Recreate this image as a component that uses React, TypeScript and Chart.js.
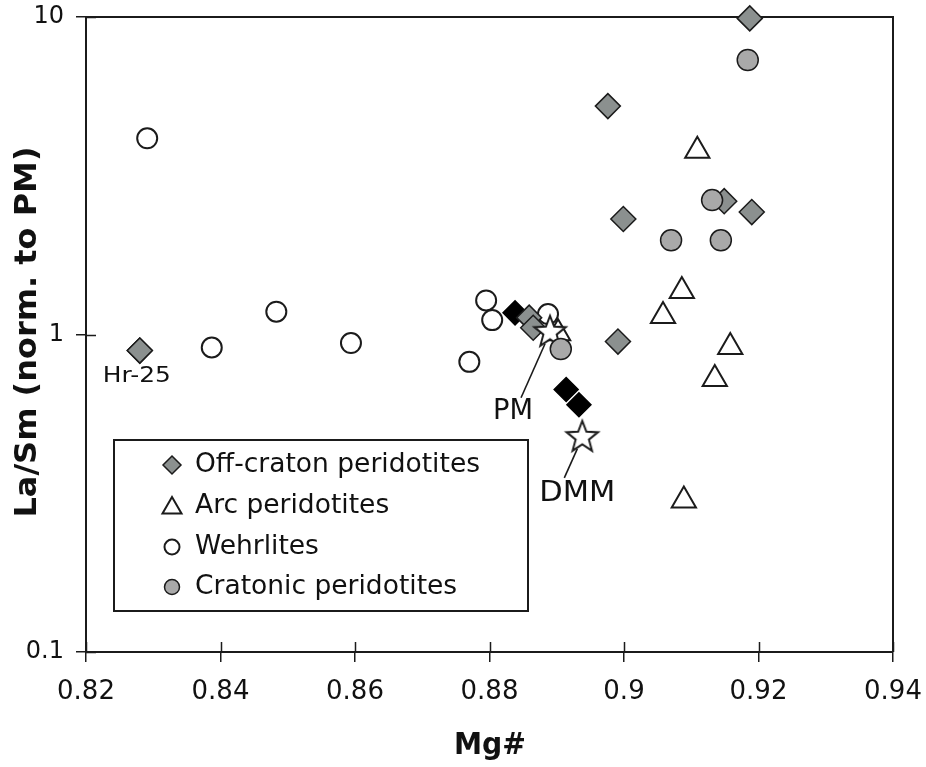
import React, { useEffect, useRef } from 'react';
import { Chart, registerables } from 'chart.js';

Chart.register(...registerables);

// Mg# vs. primitive-mantle-normalised La/Sm for mantle peridotites
const offCratonMg = [0.9187, 0.8976, 0.8999, 0.919, 0.9149, 0.8991, 0.828, 0.8859, 0.8865];
const offCratonLaSm = [9.9, 5.24, 2.31, 2.43, 2.63, 0.95, 0.89, 1.13, 1.05];

const arcMg = [0.9109, 0.9086, 0.9058, 0.9158, 0.9135, 0.9089, 0.8902];
const arcLaSm = [3.79, 1.37, 1.144, 0.913, 0.724, 0.3, 1.01];

const wehrliteMg = [0.8291, 0.8387, 0.8483, 0.8594, 0.877, 0.8795, 0.8804, 0.8887];
const wehrliteLaSm = [4.15, 0.91, 1.18, 0.94, 0.82, 1.28, 1.11, 1.16];

const cratonicMg = [0.9184, 0.9131, 0.907, 0.9144, 0.8906];
const cratonicLaSm = [7.32, 2.65, 1.98, 1.98, 0.9];

const blackMg = [0.8838, 0.8914, 0.8933];
const blackLaSm = [1.17, 0.671, 0.601];

const refNames = ['PM', 'DMM'];
const refMg = [0.889, 0.8938];
const refLaSm = [1.02, 0.476];

const sampleNames = ['Hr-25'];
const sampleMg = [0.828];
const sampleLaSm = [0.89];

const xTicks = [0.82, 0.84, 0.86, 0.88, 0.9, 0.92, 0.94];
const yTicks = [0.1, 1, 10];

const legendNames = ['Off-craton peridotites', 'Arc peridotites', 'Wehrlites', 'Cratonic peridotites'];

const FONT = "'DejaVu Sans', Verdana, sans-serif";
const INK = '#1b1b1b';
const GREY_DIAMOND = '#8b908f';
const GREY_CIRCLE = '#a9a9a9';

const pts = (xs: number[], ys: number[]) => xs.map((x, i) => ({ x, y: ys[i] }));

function makeStar(): HTMLCanvasElement {
  const c = document.createElement('canvas');
  c.width = 38;
  c.height = 38;
  const g = c.getContext('2d')!;
  const cx = 19, cy = 19.5, R = 16.5, r = 7;
  g.beginPath();
  for (let i = 0; i < 10; i++) {
    const a = -Math.PI / 2 + (i * Math.PI) / 5;
    const rad = i % 2 === 0 ? R : r;
    const px = cx + rad * Math.cos(a);
    const py = cy + rad * Math.sin(a);
    if (i === 0) g.moveTo(px, py);
    else g.lineTo(px, py);
  }
  g.closePath();
  g.fillStyle = '#ffffff';
  g.fill();
  g.lineWidth = 2;
  g.strokeStyle = INK;
  g.lineJoin = 'miter';
  g.stroke();
  return c;
}

function fitText(
  ctx: CanvasRenderingContext2D,
  text: string,
  x: number,
  y: number,
  font: string,
  width: number,
  rot = 0,
  align: CanvasTextAlign = 'center'
) {
  ctx.save();
  ctx.font = font;
  ctx.textAlign = align;
  ctx.textBaseline = 'middle';
  const w = ctx.measureText(text).width;
  ctx.translate(x, y);
  ctx.rotate(rot);
  ctx.scale(width / w, 1);
  ctx.fillText(text, 0, 0);
  ctx.restore();
}

function marker(ctx: CanvasRenderingContext2D, kind: string, x: number, y: number, r: number, fill: string, lw: number) {
  ctx.beginPath();
  if (kind === 'diamond') {
    ctx.moveTo(x, y - r);
    ctx.lineTo(x + r, y);
    ctx.lineTo(x, y + r);
    ctx.lineTo(x - r, y);
    ctx.closePath();
  } else if (kind === 'triangle') {
    for (let i = 0; i < 3; i++) {
      const a = -Math.PI / 2 + (i * 2 * Math.PI) / 3;
      const px = x + r * Math.cos(a);
      const py = y + r * Math.sin(a);
      if (i === 0) ctx.moveTo(px, py);
      else ctx.lineTo(px, py);
    }
    ctx.closePath();
  } else {
    ctx.arc(x, y, r, 0, Math.PI * 2);
  }
  ctx.fillStyle = fill;
  ctx.fill();
  ctx.lineWidth = lw;
  ctx.strokeStyle = INK;
  ctx.stroke();
}

const overlay = {
  id: 'overlay',
  beforeDatasetsDraw(chart: any) {
    const { ctx, chartArea: a, scales } = chart;
    ctx.save();
    ctx.strokeStyle = INK;
    ctx.lineWidth = 1.5;
    // inward half of the tick marks
    ctx.beginPath();
    for (const v of xTicks) {
      const px = Math.round(scales.x.getPixelForValue(v)) + 0.5;
      ctx.moveTo(px, a.bottom);
      ctx.lineTo(px, a.bottom - 10);
    }
    for (const v of yTicks) {
      const py = Math.round(scales.y.getPixelForValue(v)) + 0.5;
      ctx.moveTo(a.left, py);
      ctx.lineTo(a.left + 10, py);
    }
    ctx.stroke();
    // frame on top and right
    ctx.lineWidth = 2;
    ctx.beginPath();
    ctx.moveTo(a.left, a.top);
    ctx.lineTo(a.right, a.top);
    ctx.lineTo(a.right, a.bottom);
    ctx.stroke();
    ctx.restore();
  },
  afterDraw(chart: any) {
    const { ctx, scales } = chart;
    const X = (v: number) => scales.x.getPixelForValue(v);
    const Y = (v: number) => scales.y.getPixelForValue(v);
    ctx.save();
    ctx.fillStyle = '#111';
    ctx.strokeStyle = INK;

    // axis titles
    fitText(ctx, 'La/Sm (norm. to PM)', 28, 332, `bold 31px ${FONT}`, 371, -Math.PI / 2);
    fitText(ctx, 'Mg#', 490, 746, `bold 31px ${FONT}`, 72);

    // reference reservoirs with leader lines
    const leaders = [
      { dx0: -5, dy0: 12, dx1: -29, dy1: 66, lx: -37, ly: 80, w: 40 },
      { dx0: -5, dy0: 12, dx1: -18, dy1: 41, lx: -5, ly: 57, w: 76 },
    ];
    refNames.forEach((name, i) => {
      const px = X(refMg[i]);
      const py = Y(refLaSm[i]);
      const L = leaders[i];
      ctx.lineWidth = 1.6;
      ctx.beginPath();
      ctx.moveTo(px + L.dx0, py + L.dy0);
      ctx.lineTo(px + L.dx1, py + L.dy1);
      ctx.stroke();
      fitText(ctx, name, px + L.lx, py + L.ly, `29px ${FONT}`, L.w);
    });

    // sample label
    sampleNames.forEach((name, i) => {
      fitText(ctx, name, X(sampleMg[i]) - 3, Y(sampleLaSm[i]) + 26, `22px ${FONT}`, 68);
    });

    // legend box
    const bx = 114, by = 440, bw = 414, bh = 171;
    ctx.fillStyle = '#ffffff';
    ctx.fillRect(bx, by, bw, bh);
    ctx.lineWidth = 2;
    ctx.strokeRect(bx, by, bw, bh);
    const rows = [465, 506, 547, 587];
    const kinds = [
      { k: 'diamond', r: 9, fill: GREY_DIAMOND, lw: 1.5 },
      { k: 'triangle', r: 11, fill: '#ffffff', lw: 2 },
      { k: 'circle', r: 7.5, fill: '#ffffff', lw: 2 },
      { k: 'circle', r: 7.5, fill: GREY_CIRCLE, lw: 1.5 },
    ];
    ctx.font = `26px ${FONT}`;
    const sx = 285 / ctx.measureText(legendNames[0]).width;
    legendNames.forEach((name, i) => {
      const m = kinds[i];
      marker(ctx, m.k, 172, rows[i] + (m.k === 'triangle' ? 2 : 0), m.r, m.fill, m.lw);
      ctx.fillStyle = '#111';
      ctx.save();
      ctx.font = `26px ${FONT}`;
      ctx.textAlign = 'left';
      ctx.textBaseline = 'middle';
      ctx.translate(195, rows[i]);
      ctx.scale(sx, 1);
      ctx.fillText(name, 0, 0);
      ctx.restore();
    });
    ctx.restore();
  },
};

// scales keep a fixed size; tick labels may overhang the plot edges
const fixSize = (prop: 'width' | 'height', size: number) => (s: any) => {
  s[prop] = size;
  s.paddingTop = 0;
  s.paddingBottom = 0;
  s.paddingLeft = 0;
  s.paddingRight = 0;
};

export default function App() {
  const ref = useRef<HTMLCanvasElement>(null);

  useEffect(() => {
    if (!ref.current) return;
    const star = makeStar();
    const chart = new Chart(ref.current, {
      type: 'scatter',
      data: {
        datasets: [
          {
            label: legendNames[2],
            data: pts(wehrliteMg, wehrliteLaSm),
            pointStyle: 'circle',
            pointRadius: 10,
            backgroundColor: '#ffffff',
            borderColor: INK,
            borderWidth: 2,
            order: 6,
            clip: false,
          },
          {
            label: legendNames[1],
            data: pts(arcMg, arcLaSm),
            pointStyle: 'triangle',
            pointRadius: 14,
            backgroundColor: '#ffffff',
            borderColor: INK,
            borderWidth: 2,
            order: 5,
            clip: false,
          },
          {
            label: 'Black diamonds',
            data: pts(blackMg, blackLaSm),
            pointStyle: 'rectRot',
            pointRadius: 12,
            backgroundColor: '#000000',
            borderColor: '#000000',
            borderWidth: 1.5,
            order: 4,
            clip: false,
          },
          {
            label: legendNames[0],
            data: pts(offCratonMg, offCratonLaSm).concat(pts(sampleMg, sampleLaSm)),
            pointStyle: 'rectRot',
            pointRadius: 12.5,
            backgroundColor: GREY_DIAMOND,
            borderColor: INK,
            borderWidth: 1.5,
            order: 3,
            clip: false,
          },
          {
            label: 'PM / DMM',
            data: pts(refMg, refLaSm),
            pointStyle: star,
            pointRadius: 16,
            order: 2,
            clip: false,
          },
          {
            label: legendNames[3],
            data: pts(cratonicMg, cratonicLaSm),
            pointStyle: 'circle',
            pointRadius: 10.5,
            backgroundColor: GREY_CIRCLE,
            borderColor: INK,
            borderWidth: 1.5,
            order: 1,
            clip: false,
          },
        ] as any,
      },
      options: {
        responsive: false,
        animation: false,
        events: [],
        layout: { padding: { left: 0, top: 17, right: 33, bottom: 0 } },
        plugins: { legend: { display: false }, tooltip: { enabled: false } },
        scales: {
          x: {
            type: 'linear',
            min: 0.82,
            max: 0.94,
            afterFit: fixSize('height', 115),
            afterBuildTicks: (s: any) => {
              s.ticks = xTicks.map((value) => ({ value }));
            },
            ticks: {
              autoSkip: false,
              maxRotation: 0,
              padding: 15,
              color: '#111',
              font: { family: FONT, size: 26 },
              callback: (v: any) => String(Math.round(Number(v) * 100) / 100),
            },
            grid: { drawOnChartArea: false, drawTicks: true, tickLength: 10, color: INK, lineWidth: 1.5 },
            border: { display: true, color: INK, width: 2 },
          },
          y: {
            type: 'logarithmic',
            min: 0.1,
            max: 10,
            afterFit: fixSize('width', 86),
            afterBuildTicks: (s: any) => {
              s.ticks = yTicks.map((value) => ({ value }));
            },
            ticks: {
              autoSkip: false,
              padding: 12,
              color: '#111',
              font: { family: FONT, size: 24 },
              callback: (v: any) => String(v),
            },
            grid: { drawOnChartArea: false, drawTicks: true, tickLength: 10, color: INK, lineWidth: 1.5 },
            border: { display: true, color: INK, width: 2 },
          },
        },
      },
      plugins: [overlay],
    });
    return () => chart.destroy();
  }, []);

  return (
    <div style={{ position: 'absolute', left: 0, top: 0, width: 926, height: 767, background: '#fff' }}>
      <canvas ref={ref} width={926} height={767} style={{ display: 'block' }} />
    </div>
  );
}
